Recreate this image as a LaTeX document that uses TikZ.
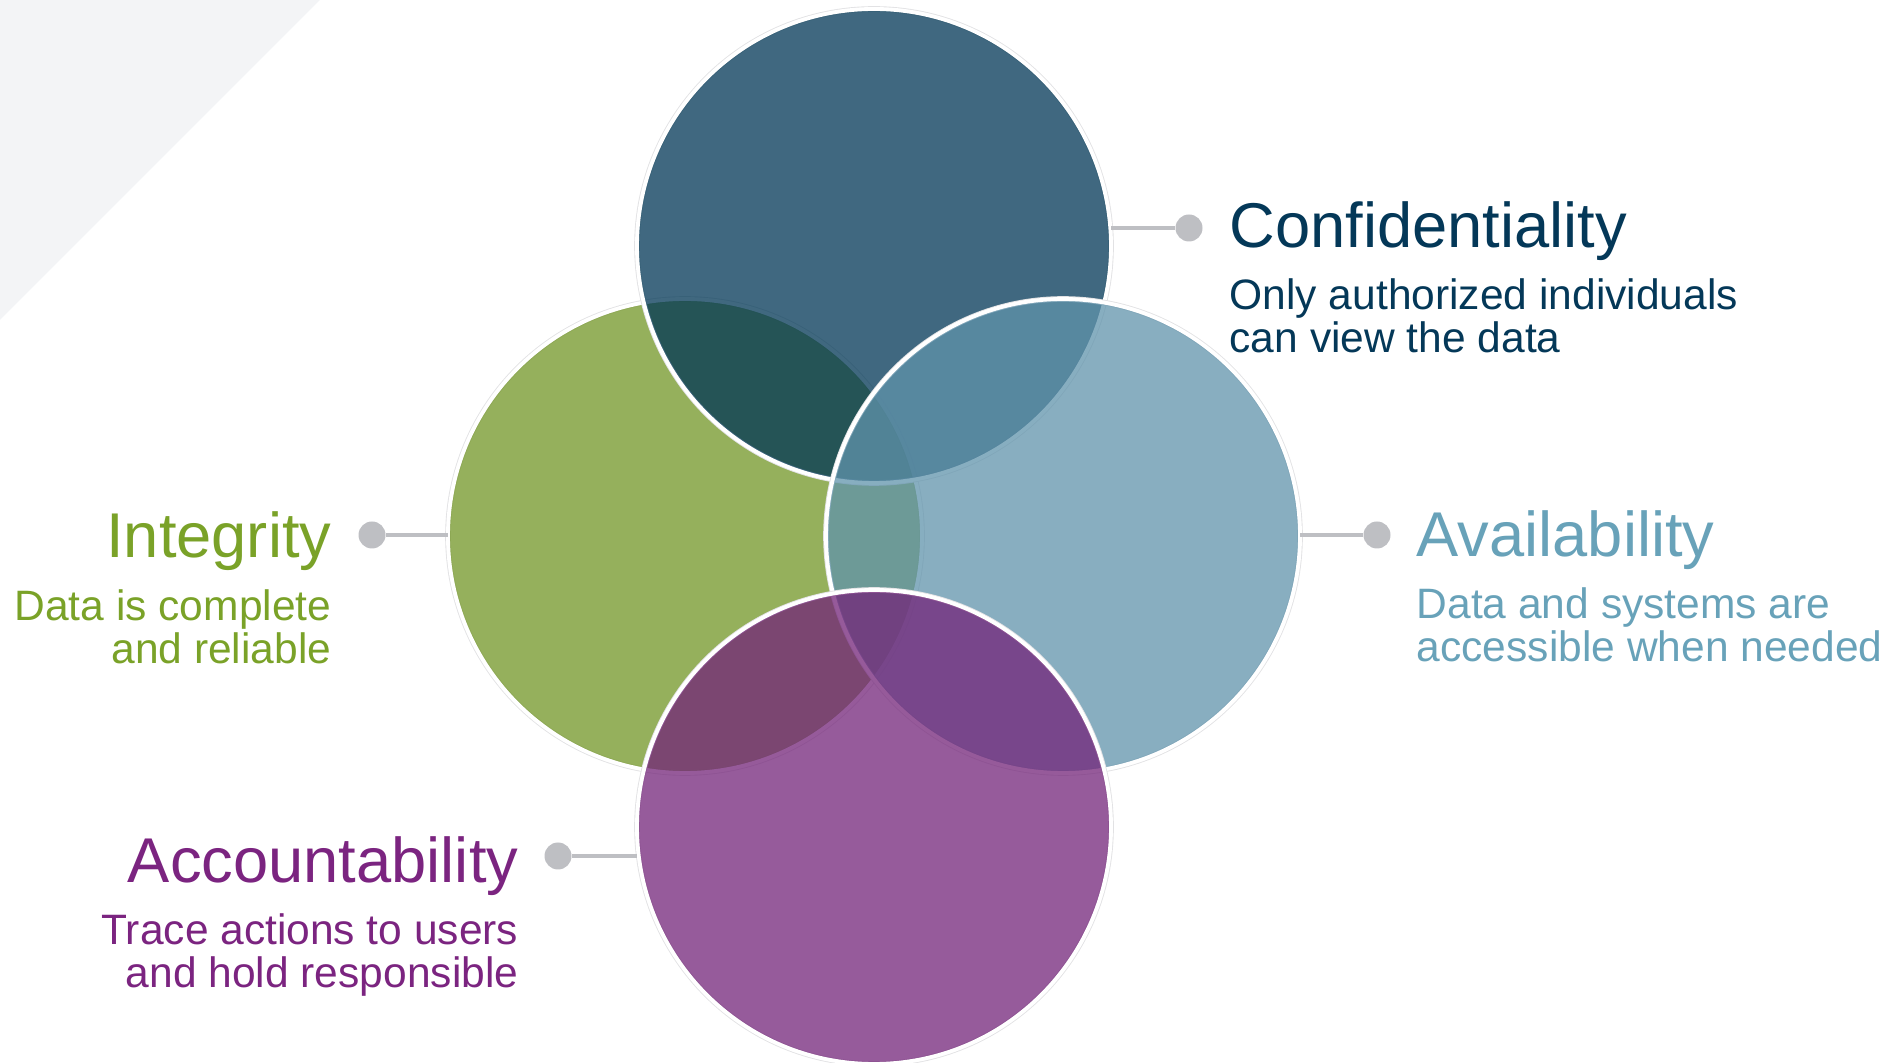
\documentclass[tikz,border=0pt]{standalone}
\usepackage{fontspec}
\setmainfont{Liberation Sans}
\usetikzlibrary{positioning}

\definecolor{confblue}{RGB}{0,54,85}
\definecolor{integgreen}{RGB}{113,149,37}
\definecolor{availblue}{RGB}{96,147,171}
\definecolor{accpurple}{RGB}{115,36,121}
\definecolor{conftext}{RGB}{4,56,88}
\definecolor{integtext}{RGB}{122,162,40}
\definecolor{availtext}{RGB}{104,162,185}
\definecolor{acctext}{RGB}{123,36,128}
\definecolor{leadgray}{RGB}{190,191,195}
\definecolor{rimgray}{RGB}{226,226,228}
\definecolor{cornergray}{RGB}{243,244,246}

\tikzset{
  pillar/.style={circle, inner sep=0pt, outer sep=0pt, minimum size=4.74cm,
    preaction={draw=rimgray, line width=1.6pt},
    fill=#1, fill opacity=0.75, draw=white, line width=1.1pt},
  heading/.style={font=\fontsize{18}{18}\selectfont, inner sep=0pt},
  blurb/.style={font=\fontsize{12.1}{12.1}\selectfont, inner sep=0pt},
  pin/.style={circle, fill=leadgray, inner sep=0pt, minimum size=0.27cm},
  lead/.style={leadgray, line width=0.9pt}
}

\begin{document}
\begin{tikzpicture}
    \useasboundingbox (0,0) rectangle (19.02,-10.63);
    % corner shade
    \fill[cornergray] (0,0) -- (3.2,0) -- (0,-3.2) -- cycle;

    % Circles
    \node[pillar=integgreen] (integ) at (6.85,-5.36) {};
    \node[pillar=confblue] (conf) at (8.74,-2.46) {};
    \node[pillar=availblue] (avail) at (10.63,-5.36) {};
    \node[pillar=accpurple] (acc) at (8.74,-8.27) {};

    % Pins and leads
    \node[pin] (confpin) at (11.89,-2.28) {};
    \draw[lead] (confpin) -- (conf.east |- confpin);
    \node[pin] (integpin) at (3.72,-5.35) {};
    \draw[lead] (integpin) -- (integ.west |- integpin);
    \node[pin] (availpin) at (13.77,-5.35) {};
    \draw[lead] (availpin) -- (avail.east |- availpin);
    \node[pin] (accpin) at (5.58,-8.56) {};
    \draw[lead] (accpin) -- (acc.west |- accpin);

    % Labels (blurb base = last line)
    \node[heading, text=conftext, anchor=base west] (conftitle) at (12.29,-2.48) {Confidentiality};
    \node[blurb, text=conftext, anchor=base west, align=left] (confblurb) at (12.29,-3.525)
        {Only authorized individuals\\can view the data};

    \node[heading, text=integtext, anchor=base east] (integtitle) at (3.32,-5.58) {Integrity};
    \node[blurb, text=integtext, anchor=base east, align=right] (integblurb) at (3.32,-6.635)
        {Data is complete\\and reliable};

    \node[heading, text=availtext, anchor=base west] (availtitle) at (14.16,-5.57) {Availability};
    \node[blurb, text=availtext, anchor=base west, align=left] (availblurb) at (14.16,-6.615)
        {Data and systems are\\accessible when needed};

    \node[heading, text=acctext, anchor=base east] (acctitle) at (5.19,-8.82) {Accountability};
    \node[blurb, text=acctext, anchor=base east, align=right] (accblurb) at (5.19,-9.875)
        {Trace actions to users\\and hold responsible};
\end{tikzpicture}
\end{document}
